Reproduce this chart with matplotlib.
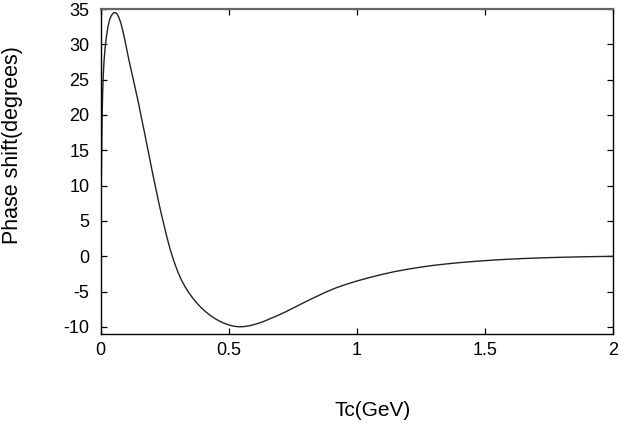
import numpy as np
import matplotlib
matplotlib.use("Agg")
import matplotlib.pyplot as plt

plt.rcParams['font.family'] = ['Liberation Sans', 'DejaVu Sans']
plt.rcParams['axes.unicode_minus'] = False

# valeurs
tc = [0, 0.001, 0.002, 0.003, 0.004, 0.005, 0.006, 0.008, 0.01, 0.013, 0.017, 0.022,
      0.028, 0.035, 0.042, 0.05, 0.056, 0.063, 0.07, 0.078, 0.086, 0.095, 0.105, 0.115,
      0.125, 0.136, 0.147, 0.158, 0.17, 0.181, 0.192, 0.203, 0.214, 0.225, 0.236, 0.248,
      0.26, 0.272, 0.285, 0.3, 0.315, 0.33, 0.345, 0.36, 0.375, 0.39, 0.405, 0.42,
      0.435, 0.45, 0.465, 0.48, 0.5, 0.52, 0.54, 0.56, 0.585, 0.61, 0.635, 0.66,
      0.69, 0.72, 0.75, 0.78, 0.81, 0.845, 0.88, 0.92, 0.96, 1.0, 1.05, 1.1,
      1.15, 1.2, 1.25, 1.3, 1.35, 1.4, 1.45, 1.5, 1.55, 1.6, 1.65, 1.7,
      1.75, 1.8, 1.85, 1.9, 1.95, 2.0]
phase = [0, 5, 9, 12.5, 15, 18, 20.5, 23.5, 25.5, 27.6, 29.4, 31,
         32.4, 33.5, 34.1, 34.45, 34.5, 34.35, 33.9, 33.1, 32, 30.5, 28.7, 27,
         25.4, 23.6, 21.8, 19.8, 17.7, 15.7, 13.7, 11.7, 9.8, 7.9, 6.1, 4.3,
         2.5, 0.9, -0.6, -2.1, -3.35, -4.35, -5.2, -5.95, -6.6, -7.2, -7.7, -8.15,
         -8.55, -8.9, -9.2, -9.45, -9.72, -9.9, -9.98, -9.95, -9.8, -9.55, -9.25, -8.85,
         -8.4, -7.9, -7.35, -6.8, -6.25, -5.65, -5.05, -4.45, -3.95, -3.5, -3.0, -2.55,
         -2.15, -1.82, -1.53, -1.28, -1.08, -0.9, -0.75, -0.62, -0.5, -0.4, -0.32, -0.25,
         -0.19, -0.14, -0.1, -0.06, -0.03, -0.01]

xticks = [0, 0.5, 1, 1.5, 2]
xticklabels = ['0', '0.5', '1', '1.5', '2']
yticks = [-10, -5, 0, 5, 10, 15, 20, 25, 30, 35]

fig = plt.figure(figsize=(6.23, 4.23), dpi=100)
ax = fig.add_axes([0.1616, 0.2104, 0.8224, 0.7683])

ax.plot(tc, phase, color='#222222', lw=1.0)

ax.set_xlim(0, 2)
ax.set_ylim(-11, 35)
ax.set_xticks(xticks)
ax.set_xticklabels(xticklabels)
ax.set_yticks(yticks)
ax.tick_params(direction='in', length=4, width=0.9, top=True, right=True,
               labelsize=13)
ax.tick_params(axis='x', pad=6)
ax.tick_params(axis='y', pad=8)
for s in ax.spines.values():
    s.set_linewidth(1.0)
ax.spines['top'].set_color('#666666')
ax.spines['top'].set_linewidth(1.6)

ax.set_xlabel('Tc(GeV)', fontsize=15, va='center')
ax.xaxis.set_label_coords(0.531, -0.234)
ax.set_ylabel('Phase shift(degrees)', fontsize=15.5, va='center')
ax.yaxis.set_label_coords(-0.172, 0.58)

fig.savefig('out.png', dpi=100)
